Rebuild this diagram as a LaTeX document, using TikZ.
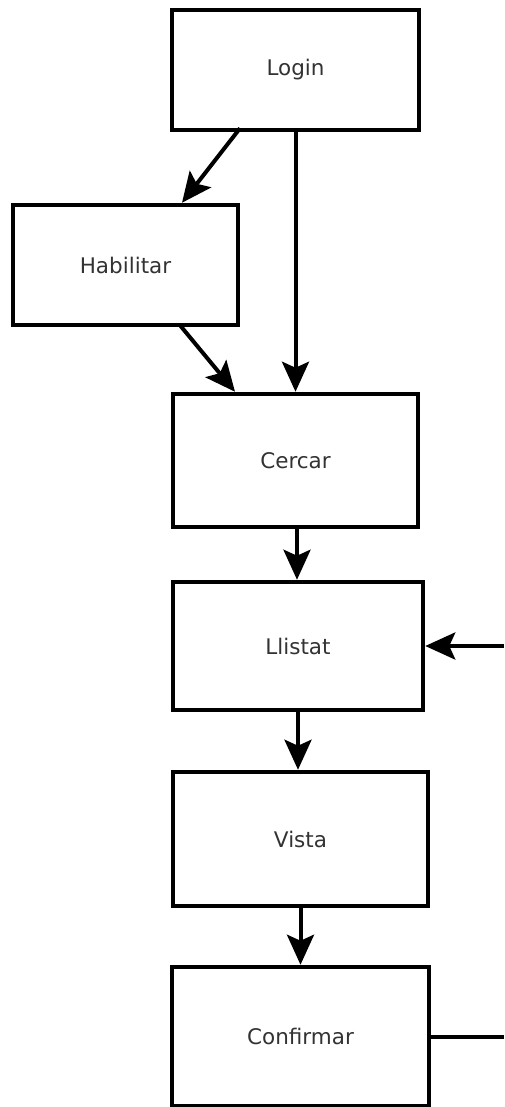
\documentclass[tikz,border=0pt]{standalone}
\usepackage{fontspec}
\setmainfont{DejaVu Sans}
\usetikzlibrary{arrows.meta}
\begin{document}
\begin{tikzpicture}[x=1pt,y=-1pt,
  box/.style={draw=black, line width=4.5pt, fill=white, inner sep=0pt,
    font=\fontsize{21.5}{24}\selectfont, text=black!80},
  arr/.style={line width=4pt, -{Stealth[length=30pt, width=27pt, inset=6pt]}},
  ln/.style={line width=4pt}]
\useasboundingbox[fill=white] (0,0) rectangle (504,1107);
\node[box, minimum width=247pt, minimum height=120pt] (login) at (295.5,70) {Login};
\node[box, minimum width=225pt, minimum height=120pt] (hab) at (125.5,265) {Habilitar};
\node[box, minimum width=245pt, minimum height=133pt] (cercar) at (295.5,460.5) {Cercar};
\node[box, minimum width=250pt, minimum height=128pt] (llistat) at (298,646) {Llistat};
\node[box, minimum width=255pt, minimum height=134pt] (vista) at (300.5,839) {Vista};
\node[box, minimum width=257pt, minimum height=139pt] (confirmar) at (300.5,1036.5) {Confirmar};
\coordinate (rin) at (504,646);
\draw[arr] ([xshift=-55.5pt,yshift=4pt]login.south) -- ([xshift=56.5pt]hab.north);
\draw[arr] ([xshift=54.5pt,yshift=2pt]hab.south) -- ([xshift=-60.5pt]cercar.north);
\draw[arr] (login.south) -- (cercar.north);
\draw[arr] ([xshift=1.5pt]cercar.south) -- ([xshift=1.5pt]cercar.south |- llistat.north);
\draw[arr] (llistat.south) -- (llistat.south |- vista.north);
\draw[arr] (vista.south) -- (confirmar.north);
\draw[arr] (rin) -- (llistat.east);
\draw[ln] (confirmar.east) -- (confirmar.east -| rin);
\end{tikzpicture}
\end{document}
